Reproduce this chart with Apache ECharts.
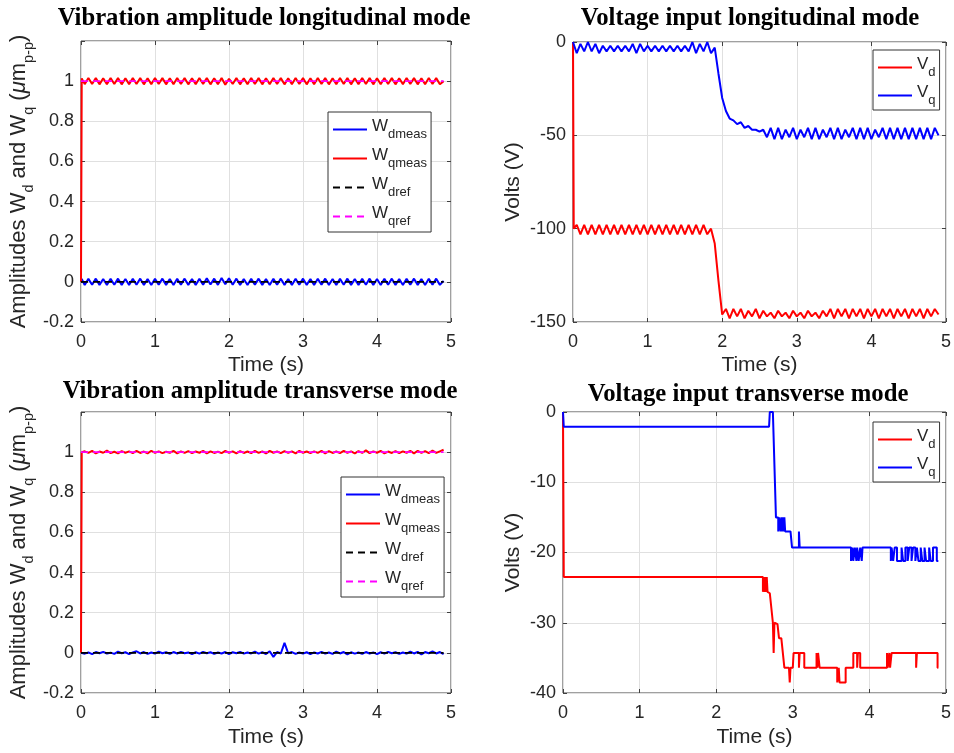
<!DOCTYPE html>
<html>
<head>
<meta charset="utf-8">
<script src="https://cdn.jsdelivr.net/npm/echarts@6/dist/echarts.min.js"></script>
<style>
  html, body { margin: 0; padding: 0; background: #fff; }
  #chart { width: 954px; height: 753px; }
</style>
</head>
<body>
<div id="chart"></div>
<script>
// shared time base for the rippling signals (s)
const tRipple = [0,0.01,0.05,0.1,0.15,0.2,0.25,0.3,0.35,0.4,0.45,0.5,0.55,0.6,0.65,0.7,0.75,0.8,0.85,0.9,0.95,1,
  1.05,1.1,1.15,1.2,1.25,1.3,1.35,1.4,1.45,1.5,1.55,1.6,1.65,1.7,1.75,1.8,1.85,1.9,1.95,2,
  2.05,2.1,2.15,2.2,2.25,2.3,2.35,2.4,2.45,2.5,2.55,2.6,2.65,2.7,2.75,2.8,2.85,2.9,2.95,3,
  3.05,3.1,3.15,3.2,3.25,3.3,3.35,3.4,3.45,3.5,3.55,3.6,3.65,3.7,3.75,3.8,3.85,3.9,3.95,4,
  4.05,4.1,4.15,4.2,4.25,4.3,4.35,4.4,4.45,4.5,4.55,4.6,4.65,4.7,4.75,4.8,4.85,4.9];

// longitudinal mode, amplitudes (um p-p)
const wdMeasLong = [0,0.014,-0.016,0.015,-0.014,0.016,-0.015,0.014,-0.016,0.015,
  -0.014,0.016,-0.015,0.014,-0.016,0.015,-0.014,0.016,-0.015,0.014,
  -0.016,0.015,-0.014,0.016,-0.015,0.014,-0.016,0.015,-0.014,0.016,
  -0.015,0.014,-0.016,0.015,-0.014,0.018,-0.013,0.016,-0.015,0.019,
  -0.012,0.018,-0.014,0.016,-0.015,0.014,-0.016,0.015,-0.014,0.016,
  -0.015,0.014,-0.016,0.015,-0.014,0.016,-0.015,0.014,-0.016,0.015,
  -0.014,0.016,-0.015,0.014,-0.016,0.015,-0.014,0.016,-0.015,0.014,
  -0.016,0.015,-0.014,0.016,-0.015,0.014,-0.016,0.015,-0.014,0.016,
  -0.015,0.014,-0.016,0.015,-0.014,0.016,-0.015,0.014,-0.016,0.015,
  -0.014,0.016,-0.015,0.014,-0.016,0.015,-0.014,0.016,-0.015,0.005];
const wqMeasLong = [0,1.014,0.985,1.016,0.986,1.015,0.984,1.014,0.985,1.016,
  0.986,1.015,0.984,1.014,0.985,1.016,0.986,1.015,0.984,1.014,
  0.985,1.016,0.986,1.015,0.984,1.014,0.985,1.016,0.986,1.015,
  0.984,1.014,0.985,1.016,0.986,1.015,0.984,1.014,0.985,1.016,
  0.982,1.012,0.986,1.015,0.984,1.014,0.985,1.016,0.986,1.015,
  0.984,1.014,0.985,1.016,0.986,1.015,0.984,1.014,0.985,1.016,
  0.986,1.015,0.984,1.014,0.985,1.016,0.986,1.015,0.984,1.014,
  0.985,1.016,0.986,1.015,0.984,1.014,0.985,1.016,0.986,1.015,
  0.984,1.014,0.985,1.016,0.986,1.015,0.984,1.014,0.985,1.016,
  0.986,1.015,0.984,1.014,0.985,1.016,0.986,1.015,0.984,1.0];

// longitudinal mode, voltages (V)
const vdLong = [0,-100,-98,-103,-98,-103,-98,-103,-98,-103,
  -98,-103,-98,-103,-98,-103,-98,-103,-98,-103,
  -98,-103,-98,-103,-98,-103,-98,-103,-98,-103,
  -98,-103,-98,-103,-98,-103,-98,-103,-100,-108,
  -128,-146,-143,-148,-143,-147,-143,-148,-144,-147,
  -143,-148,-144,-147,-145,-148,-144,-147,-145,-148,
  -144,-147,-145,-148,-144,-147,-145,-148,-144,-147,
  -143,-148,-143,-147,-143,-148,-143,-147,-143,-148,
  -143,-147,-143,-148,-143,-147,-143,-148,-143,-147,
  -143,-148,-143,-147,-143,-148,-143,-147,-143,-146];
const vqLong = [0,-1,-6,-1,-5,0,-5,-1,-6,-2,
  -5,-2,-5,-2,-5,-2,-5,-1,-6,-1,
  -5,-2,-5,-2,-5,-2,-5,-2,-5,-2,
  -5,-2,-5,0,-6,-1,-5,0,-6,-3,
  -17,-30,-37,-41,-42,-44,-43,-46,-45,-47,
  -47,-48,-47,-51,-46,-52,-46,-52,-47,-51,
  -46,-52,-47,-51,-46,-52,-46,-52,-47,-51,
  -46,-52,-46,-52,-47,-51,-46,-52,-46,-52,
  -46,-52,-47,-51,-46,-52,-46,-52,-46,-52,
  -46,-52,-46,-52,-46,-52,-46,-52,-46,-50];

// transverse mode, amplitudes (um p-p)
const wdMeasTrans = [0,0.003,-0.004,0.002,-0.006,0.004,-0.002,0.005,-0.003,0.001,
  -0.005,0.006,-0.002,0.003,-0.006,0.002,0.008,-0.003,0.004,-0.005,
  0.002,-0.004,0.006,-0.002,0.003,-0.005,0.004,-0.003,0.005,-0.002,
  0.002,-0.006,0.003,-0.004,0.005,-0.002,0.003,-0.005,0.002,-0.003,
  0.004,-0.006,0.003,-0.002,0.005,-0.004,0.002,-0.003,0.006,-0.004,
  0.003,-0.006,0.008,-0.02,0.004,-0.003,0.05,-0.002,0.004,-0.005,
  0.002,-0.004,0.003,-0.006,0.002,-0.003,0.005,-0.004,0.002,-0.005,
  0.006,-0.003,0.004,-0.008,0.003,-0.004,0.002,-0.005,0.004,-0.003,
  0.002,-0.006,0.003,-0.004,0.005,-0.002,0.003,-0.005,0.002,-0.004,
  0.006,-0.003,0.005,-0.008,0.004,-0.002,0.007,-0.003,0.004,-0.006];
const wqMeasTrans = [0,1.0,1.004,0.996,1.006,0.994,1.003,0.997,1.008,0.995,
  1.002,0.994,1.005,0.997,1.004,0.995,1.006,0.996,1.003,0.994,
  1.007,0.996,1.004,0.995,1.002,0.997,1.006,0.994,1.004,0.996,
  1.005,0.995,1.003,0.997,1.006,0.994,1.004,0.996,1.002,0.995,
  1.006,0.997,1.004,0.994,1.005,0.996,1.003,0.995,1.007,0.996,
  1.004,0.994,1.006,0.997,1.003,0.995,1.005,0.996,1.004,0.994,
  1.006,0.997,1.003,0.995,1.004,0.996,1.007,0.994,1.005,0.996,
  1.003,0.995,1.006,0.997,1.004,0.994,1.005,0.996,1.009,0.995,
  1.004,0.997,1.006,0.994,1.003,0.996,1.005,0.995,1.004,0.997,
  1.006,0.994,1.007,0.996,1.005,0.995,1.008,0.996,1.004,1.012];

// reference amplitudes [t, W]
const wdRef = [[0, 0], [4.9, 0]];
const wqRef = [[0, 1], [4.9, 1]];

// transverse mode, voltages [t, V]
const vdTrans = [[0,0],[0.01,-23.5],[2.61,-23.5],[2.61,-25.6],[2.62,-25.6],[2.62,-23.5],[2.63,-23.5],[2.63,-25.6],
  [2.64,-25.6],[2.64,-23.5],[2.65,-23.5],[2.65,-25.6],[2.66,-25.6],[2.66,-23.5],[2.67,-23.5],[2.67,-25.6],
  [2.70,-25.8],[2.74,-30],[2.75,-34.3],[2.76,-30],[2.78,-30],[2.80,-30.2],[2.82,-32.2],[2.85,-32.2],
  [2.89,-36.4],[2.95,-36.4],[2.96,-38.5],[2.97,-36.4],[3.0,-36.4],[3.01,-34.3],[3.08,-34.3],[3.08,-36.4],
  [3.09,-36.4],[3.09,-34.3],[3.15,-34.3],[3.15,-36.4],[3.31,-36.4],[3.31,-34.3],[3.32,-34.3],[3.32,-36.4],
  [3.33,-36.4],[3.33,-34.3],[3.35,-34.3],[3.35,-36.4],[3.58,-36.4],[3.58,-38.5],[3.6,-38.5],[3.6,-36.4],
  [3.61,-36.4],[3.61,-38.5],[3.69,-38.5],[3.69,-36.4],[3.79,-36.4],[3.79,-34.3],[3.84,-34.3],[3.84,-36.4],
  [3.85,-36.4],[3.85,-34.3],[3.88,-34.3],[3.88,-36.4],[4.23,-36.4],[4.23,-34.3],[4.24,-34.3],[4.24,-36.4],
  [4.26,-36.4],[4.26,-34.3],[4.27,-34.3],[4.27,-36.4],[4.29,-36.4],[4.29,-34.3],[4.61,-34.3],[4.61,-36.4],
  [4.62,-36.4],[4.62,-34.3],[4.89,-34.3],[4.89,-36.4],[4.9,-36.4]];
const vqTrans = [[0,0],[0.01,-2.1],[2.69,-2.1],[2.70,0],[2.72,0.2],[2.74,0],[2.78,-15],[2.81,-15],[2.81,-17],
  [2.82,-17],[2.82,-15],[2.84,-15],[2.84,-17],[2.85,-17],[2.85,-15],[2.86,-15],[2.86,-17],[2.87,-17],
  [2.87,-15],[2.88,-15],[2.88,-17],[2.89,-17],[2.89,-15],[2.9,-15],[2.9,-17],[2.97,-17],[2.99,-19.3],
  [3.08,-19.3],[3.08,-17],[3.09,-17],[3.09,-19.3],[3.76,-19.3],[3.76,-21.2],[3.78,-21.2],[3.78,-19.3],
  [3.79,-19.3],[3.79,-21.2],[3.81,-21.2],[3.81,-19.3],[3.83,-19.3],[3.83,-21.2],[3.84,-21.2],[3.84,-19.3],
  [3.86,-19.3],[3.86,-21.2],[3.88,-21.2],[3.88,-19.3],[3.90,-19.3],[3.90,-21.2],[3.91,-21.2],[3.91,-19.3],
  [4.28,-19.3],[4.28,-21.2],[4.29,-21.2],[4.29,-19.3],[4.31,-19.3],[4.31,-21.2],[4.33,-21.2],[4.33,-19.3],
  [4.36,-19.3],[4.36,-21.2],[4.42,-21.2],[4.42,-19.3],[4.44,-19.3],[4.44,-21.2],[4.47,-21.2],[4.47,-19.3],
  [4.5,-19.3],[4.5,-21.2],[4.52,-21.2],[4.52,-19.3],[4.55,-19.3],[4.55,-21.2],[4.57,-21.2],[4.57,-19.3],
  [4.6,-19.3],[4.6,-21.2],[4.62,-21.2],[4.62,-19.3],[4.64,-19.3],[4.64,-21.2],[4.67,-21.2],[4.67,-19.3],
  [4.69,-19.3],[4.69,-21.2],[4.72,-21.2],[4.72,-19.3],[4.74,-19.3],[4.74,-21.2],[4.78,-21.2],[4.78,-19.3],
  [4.8,-19.3],[4.8,-21.2],[4.83,-21.2],[4.83,-19.3],[4.88,-19.3],[4.88,-21.2],[4.9,-21.2]];

const titles = ['Vibration amplitude longitudinal mode', 'Voltage input longitudinal mode',
  'Vibration amplitude transverse mode', 'Voltage input transverse mode'];
const xTicks = [0, 1, 2, 3, 4, 5];
const ampRange = [-0.2, 1.2, 0.2];
const voltRangeLong = [-150, 0, 50];
const voltRangeTrans = [-40, 0, 10];
const ampLegend = ['Wdmeas', 'Wqmeas', 'Wdref', 'Wqref'];
const voltLegend = ['Vd', 'Vq'];

const zip = (t, v) => t.map((x, i) => [x, v[i]]);

const TXT = '#262626';
const SANS = 'Liberation Sans, Arial, sans-serif';

const grids = [
  { left: 81, top: 41, width: 370, height: 281 },
  { left: 573, top: 42, width: 374, height: 280 },
  { left: 81, top: 412, width: 370, height: 281 },
  { left: 563, top: 412, width: 383, height: 281 }
];

// subscripts: main text sits at the top of a tall line, the small text at its bottom
const subRich = {
  n: { fontSize: 22, fontFamily: SANS, color: TXT, lineHeight: 28, verticalAlign: 'top' },
  s: { fontSize: 14.5, fontFamily: SANS, color: TXT, lineHeight: 28, verticalAlign: 'bottom' },
  mu: { fontSize: 22, fontFamily: SANS, color: TXT, fontStyle: 'italic', lineHeight: 28, verticalAlign: 'top' }
};
const legRich = {
  n: { fontSize: 17, fontFamily: SANS, color: TXT, lineHeight: 23, verticalAlign: 'top' },
  s: { fontSize: 13, fontFamily: SANS, color: TXT, lineHeight: 23, verticalAlign: 'bottom' }
};

const ampName = '{n|Amplitudes W}{s|d}{n| and W}{s|q}{n| (}{mu|μ}{n|m}{s|p-p}{n|)}';

const tickStyle = { inside: true, length: 4, lineStyle: { color: '#404040' } };

function xAxes(gi, gap) {
  return [
    {
      type: 'value', gridIndex: gi, min: xTicks[0], max: xTicks[xTicks.length - 1], interval: 1,
      name: 'Time (s)', nameLocation: 'middle', nameGap: gap,
      nameTextStyle: { fontSize: 21, fontFamily: SANS, color: TXT },
      axisLine: { show: false, onZero: false },
      axisTick: tickStyle,
      axisLabel: { fontSize: 18, fontFamily: SANS, color: TXT, margin: 11 },
      splitLine: { show: true, lineStyle: { color: '#e0e0e0', width: 1 } }
    },
    {
      type: 'value', gridIndex: gi, position: 'top', min: xTicks[0], max: xTicks[xTicks.length - 1], interval: 1,
      axisLine: { show: false, onZero: false },
      axisTick: tickStyle,
      axisLabel: { show: false }, splitLine: { show: false }
    }
  ];
}

function yAxes(gi, range, name, gap, hideMax) {
  return [
    {
      type: 'value', gridIndex: gi, min: range[0], max: range[1], interval: range[2],
      name: name, nameLocation: 'middle', nameGap: gap, nameRotate: 90,
      nameTextStyle: { fontSize: 21, fontFamily: SANS, color: TXT, rich: subRich },
      axisLine: { show: false, onZero: false },
      axisTick: tickStyle,
      axisLabel: {
        fontSize: 18, fontFamily: SANS, color: TXT, margin: 7,
        formatter: v => (hideMax && v > range[1] - range[2] / 2) ? '' : String(Math.round(v * 10) / 10)
      },
      splitLine: { show: true, lineStyle: { color: '#e0e0e0', width: 1 } }
    },
    {
      type: 'value', gridIndex: gi, position: 'right', min: range[0], max: range[1], interval: range[2],
      axisLine: { show: false, onZero: false },
      axisTick: tickStyle,
      axisLabel: { show: false }, splitLine: { show: false }
    }
  ];
}

function line(name, gi, data, color, dashed) {
  return {
    name: name, type: 'line', xAxisIndex: gi * 2, yAxisIndex: gi * 2,
    data: data, showSymbol: false, symbol: 'none', animation: false,
    lineStyle: { color: color, width: dashed ? 1.8 : 2, type: dashed ? [7, 5] : 'solid' },
    itemStyle: { color: color },
    z: dashed ? 4 : 3
  };
}

function legend(names, left, top, pad, gap) {
  return {
    data: names, left: left, top: top, orient: 'vertical',
    itemWidth: 34, itemHeight: 10, itemGap: gap, itemTextGap: 3,
    padding: pad, borderColor: '#333', borderWidth: 1, borderRadius: 0,
    backgroundColor: '#fff', selectedMode: false,
    itemStyle: { color: 'rgba(0,0,0,0)', borderWidth: 0 },
    lineStyle: { width: 2 },
    formatter: n => '{n|' + n.charAt(0) + '}{s|' + n.slice(1) + '}',
    textStyle: { rich: legRich }
  };
}

const titleStyle = { fontFamily: 'Liberation Serif, Times New Roman, serif', fontWeight: 'bold', fontSize: 24.7, color: '#000' };

const chart = echarts.init(document.getElementById('chart'));
chart.setOption({
  backgroundColor: '#fff',
  animation: false,
  title: [
    { text: titles[0], left: 259, top: 1, textAlign: 'center', textStyle: titleStyle },
    { text: titles[1], left: 745, top: 1, textAlign: 'center', textStyle: titleStyle },
    { text: titles[2], left: 255, top: 374, textAlign: 'center', textStyle: titleStyle },
    { text: titles[3], left: 743, top: 377, textAlign: 'center', textStyle: titleStyle }
  ],
  grid: grids.map(g => Object.assign({ show: true, borderColor: '#404040', borderWidth: 1, backgroundColor: '#fff' }, g)),
  xAxis: [].concat(xAxes(0, 33), xAxes(1, 33), xAxes(2, 34), xAxes(3, 34)),
  yAxis: [].concat(
    yAxes(0, ampRange, ampName, 45, true),
    yAxes(1, voltRangeLong, 'Volts (V)', 49, false),
    yAxes(2, ampRange, ampName, 45, true),
    yAxes(3, voltRangeTrans, 'Volts (V)', 39, false)
  ),
  legend: [
    legend(ampLegend, 328, 112, [6, 4, 4, 4], 6),
    legend(voltLegend, 873, 50, [6, 4, 3, 4], 5),
    legend(ampLegend, 341, 477, [6, 4, 4, 4], 6),
    legend(voltLegend, 873, 422, [6, 4, 3, 4], 5)
  ],
  series: [
    line('Wdmeas', 0, zip(tRipple, wdMeasLong), '#0000ff'),
    line('Wqmeas', 0, zip(tRipple, wqMeasLong), '#ff0000'),
    line('Wdref', 0, wdRef, '#000000', true),
    line('Wqref', 0, wqRef, '#ff00ff', true),
    line('Vd', 1, zip(tRipple, vdLong), '#ff0000'),
    line('Vq', 1, zip(tRipple, vqLong), '#0000ff'),
    line('Wdmeas', 2, zip(tRipple, wdMeasTrans), '#0000ff'),
    line('Wqmeas', 2, zip(tRipple, wqMeasTrans), '#ff0000'),
    line('Wdref', 2, wdRef, '#000000', true),
    line('Wqref', 2, wqRef, '#ff00ff', true),
    line('Vd', 3, vdTrans, '#ff0000'),
    line('Vq', 3, vqTrans, '#0000ff')
  ]
});
window.addEventListener('resize', chart.resize);
</script>
</body>
</html>
